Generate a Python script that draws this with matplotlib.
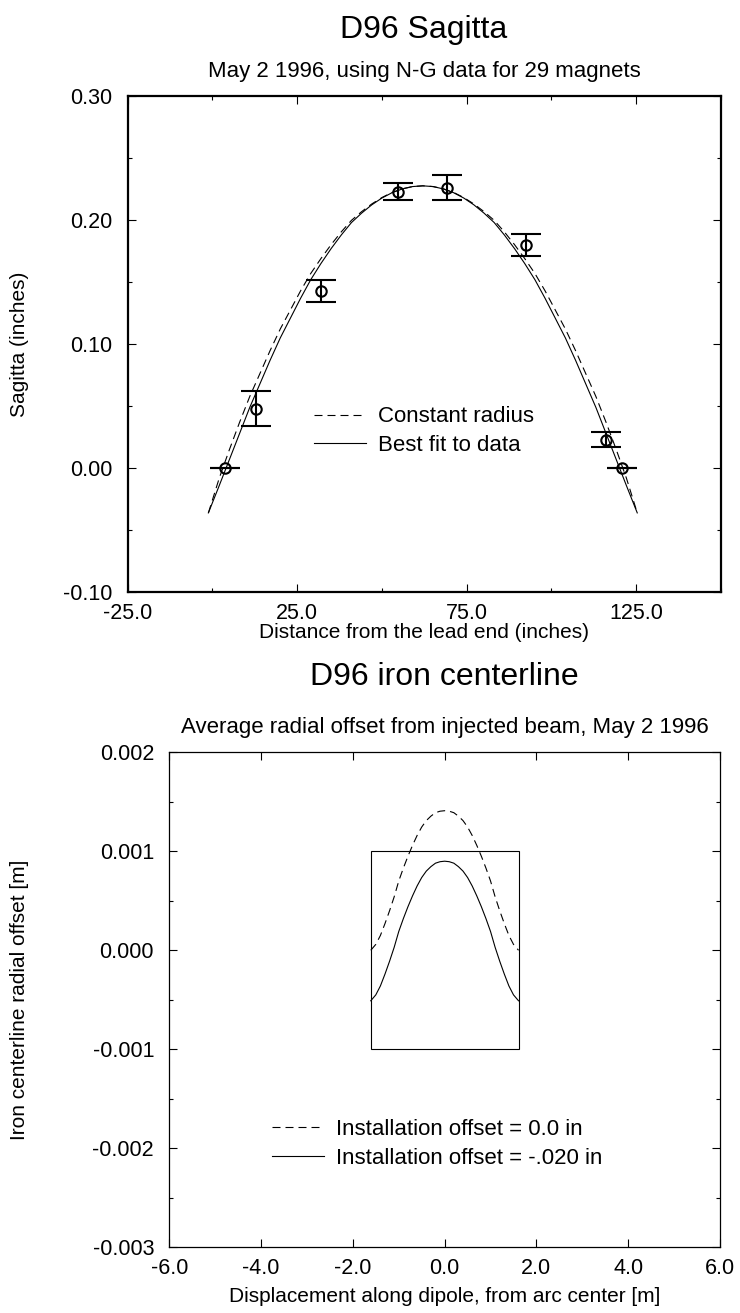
import numpy as np
import matplotlib.pyplot as plt
from matplotlib.ticker import MultipleLocator, FormatStrFormatter
from matplotlib.patches import Rectangle

plt.rcParams['font.family'] = ['Liberation Sans', 'DejaVu Sans']

# --- top panel: sagitta measurements (inches) ---
meas_pos = [3.7, 12.8, 32.0, 54.8, 69.1, 92.6, 116.2, 120.8]
meas_sag = [0.000, 0.048, 0.143, 0.223, 0.226, 0.180, 0.023, 0.000]
meas_err = [0.000, 0.014, 0.009, 0.007, 0.010, 0.009, 0.006, 0.000]

# curves
fit_pos = [-1.2, 2, 5, 8, 11, 14, 17, 20, 23, 26, 29, 32, 35, 38, 41, 44, 47, 50, 53, 56, 59, 62.05,
           65.1, 68.1, 71.1, 74.1, 77.1, 80.1, 83.1, 86.1, 89.1, 92.1, 95.1, 98.1, 101.1, 104.1,
           107.1, 110.1, 113.1, 116.1, 119.1, 122.1, 125.3]
const_radius = [-0.036, -0.008, 0.015, 0.037, 0.0578, 0.0763, 0.0948, 0.1122, 0.1276, 0.143, 0.157,
                0.169, 0.1802, 0.1905, 0.1998, 0.2068, 0.2130, 0.2182, 0.2223, 0.2252, 0.2270, 0.2276,
                0.2270, 0.2252, 0.2223, 0.2182, 0.2130, 0.2068, 0.1998, 0.1905, 0.1802, 0.169, 0.157,
                0.143, 0.1276, 0.1122, 0.0948, 0.0763, 0.0578, 0.037, 0.015, -0.008, -0.036]
best_fit = [-0.036, -0.014, 0.007, 0.028, 0.049, 0.068, 0.087, 0.105, 0.121, 0.137, 0.152,
            0.165, 0.177, 0.188, 0.198, 0.2056, 0.2123, 0.2178, 0.2221, 0.2251, 0.2270, 0.2276,
            0.2270, 0.2251, 0.2221, 0.2178, 0.2123, 0.2056, 0.198, 0.188, 0.177, 0.165, 0.152,
            0.137, 0.121, 0.105, 0.087, 0.068, 0.049, 0.028, 0.007, -0.014, -0.036]

# --- bottom panel: iron centerline (m) ---
disp = [-1.61, -1.5, -1.4, -1.3, -1.2, -1.1, -1.0, -0.9, -0.8, -0.7, -0.6, -0.5, -0.4, -0.3, -0.2, -0.1, 0.0,
        0.1, 0.2, 0.3, 0.4, 0.5, 0.6, 0.7, 0.8, 0.9, 1.0, 1.1, 1.2, 1.3, 1.4, 1.5, 1.61]
offset_00 = [0.0, 0.06, 0.15, 0.27, 0.40, 0.54, 0.70, 0.83, 0.95, 1.06, 1.16, 1.245, 1.31, 1.355, 1.39, 1.405, 1.41,
             1.405, 1.39, 1.355, 1.31, 1.245, 1.16, 1.06, 0.95, 0.83, 0.70, 0.54, 0.40, 0.27, 0.15, 0.06, 0.0]
offset_20 = [-0.51, -0.45, -0.36, -0.24, -0.11, 0.03, 0.19, 0.32, 0.44, 0.55, 0.65, 0.735, 0.80, 0.845, 0.88, 0.895, 0.90,
             0.895, 0.88, 0.845, 0.80, 0.735, 0.65, 0.55, 0.44, 0.32, 0.19, 0.03, -0.11, -0.24, -0.36, -0.45, -0.51]
offset_00 = [v * 1e-3 for v in offset_00]
offset_20 = [v * 1e-3 for v in offset_20]
box_x = [-1.61, 1.61]
box_y = [-0.001, 0.001]

W, H = 740, 1313
fig = plt.figure(figsize=(W / 100, H / 100), dpi=100)

def fx(px):
    return px / W

def fy(py):
    return 1 - py / H

FS = 15.5      # tick labels
FS_LAB = 15    # axis labels
FS_SUB = 16    # subtitles, legends
FS_TTL = 23
DASH = (0, (7.2, 4.5))

# ---------------- top panel ----------------
ax1 = fig.add_axes([fx(127.7), fy(592.3), (721 - 127.7) / W, (592.3 - 96) / H])
ax1.plot(fit_pos, const_radius, color='black', lw=0.8, ls=DASH, label='Constant radius')
ax1.plot(fit_pos, best_fit, color='black', lw=0.8, label='Best fit to data')
ax1.errorbar(meas_pos, meas_sag, yerr=meas_err, fmt='o', mfc='none', mec='black', ms=7.5, mew=1.5,
             ecolor='black', elinewidth=1.5, capsize=10.5, capthick=1.9)
ax1.set_xlim(-25, 150)
ax1.set_ylim(-0.10, 0.30)
ax1.set_xticks([-25, 25, 75, 125])
ax1.xaxis.set_minor_locator(MultipleLocator(25))
ax1.yaxis.set_major_locator(MultipleLocator(0.1))
ax1.yaxis.set_minor_locator(MultipleLocator(0.05))
ax1.xaxis.set_major_formatter(FormatStrFormatter('%.1f'))
ax1.yaxis.set_major_formatter(FormatStrFormatter('%.2f'))
for s in ax1.spines.values():
    s.set_linewidth(1.6)
ax1.tick_params(which='both', direction='in', top=True, right=True, labelsize=FS, width=0.8)
ax1.tick_params(which='major', length=6)
ax1.tick_params(which='minor', length=3)
ax1.tick_params(axis='y', pad=11)
ax1.tick_params(axis='x', pad=8)
ax1.legend(loc='center left', bbox_to_anchor=(0.314, 0.325), frameon=False, fontsize=FS_SUB,
           handlelength=2.35, handletextpad=0.55, borderpad=0, borderaxespad=0, labelspacing=0.33)

fig.text(fx(424), fy(30), 'D96 Sagitta', fontsize=FS_TTL, ha='center', va='center')
fig.text(fx(424), fy(71), 'May 2 1996, using N-G data for 29 magnets', fontsize=FS_SUB, ha='center', va='center')
fig.text(fx(424), fy(633), 'Distance from the lead end (inches)', fontsize=FS_LAB, ha='center', va='center')
fig.text(fx(20), fy(344), 'Sagitta (inches)', fontsize=FS_LAB, ha='center', va='center', rotation=90)

# ---------------- bottom panel ----------------
ax2 = fig.add_axes([fx(169.3), fy(1247.3), (720 - 169.3) / W, (1247.3 - 752.3) / H])
ax2.plot(disp, offset_00, color='black', lw=0.8, ls=DASH, label='Installation offset = 0.0 in')
ax2.plot(disp, offset_20, color='black', lw=0.8, label='Installation offset = -.020 in')
ax2.add_patch(Rectangle((box_x[0], box_y[0]), box_x[1] - box_x[0], box_y[1] - box_y[0],
                        fill=False, edgecolor='black', lw=0.8))
ax2.set_xlim(-6, 6)
ax2.set_ylim(-0.003, 0.002)
ax2.xaxis.set_major_locator(MultipleLocator(2))
ax2.yaxis.set_major_locator(MultipleLocator(0.001))
ax2.yaxis.set_minor_locator(MultipleLocator(0.0005))
ax2.xaxis.set_major_formatter(FormatStrFormatter('%.1f'))
ax2.yaxis.set_major_formatter(FormatStrFormatter('%.3f'))
for s in ax2.spines.values():
    s.set_linewidth(0.9)
ax2.tick_params(which='both', direction='in', top=True, right=True, labelsize=FS, width=0.8)
ax2.tick_params(which='major', length=6)
ax2.tick_params(which='minor', length=3)
ax2.tick_params(axis='y', pad=11)
ax2.tick_params(axis='x', pad=8)
ax2.legend(loc='center left', bbox_to_anchor=(0.1856, 0.209), frameon=False, fontsize=FS_SUB,
           handlelength=2.35, handletextpad=0.55, borderpad=0, borderaxespad=0, labelspacing=0.33)

fig.text(fx(444.7), fy(677), 'D96 iron centerline', fontsize=FS_TTL, ha='center', va='center')
fig.text(fx(444.7), fy(727), 'Average radial offset from injected beam, May 2 1996', fontsize=FS_SUB,
         ha='center', va='center')
fig.text(fx(444.7), fy(1296), 'Displacement along dipole, from arc center [m]', fontsize=FS_LAB,
         ha='center', va='center')
fig.text(fx(20), fy(1000), 'Iron centerline radial offset [m]', fontsize=FS_LAB, ha='center', va='center',
         rotation=90)

fig.savefig('out.png', dpi=100)
